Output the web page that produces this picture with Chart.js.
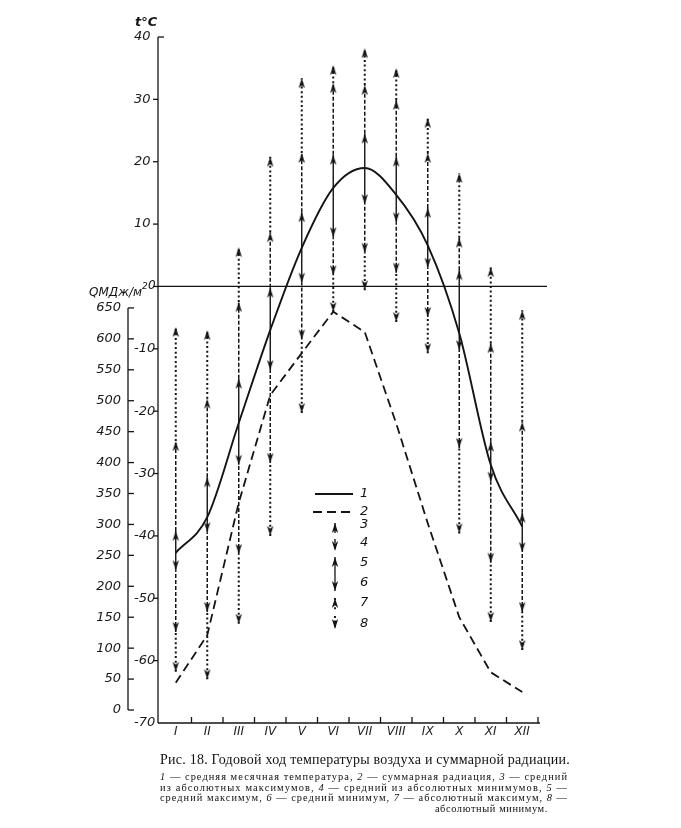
<!DOCTYPE html>
<html lang="ru">
<head>
<meta charset="utf-8">
<title>Годовой ход температуры воздуха и суммарной радиации</title>
<script src="https://cdn.jsdelivr.net/npm/chart.js@4.4.1/dist/chart.umd.min.js"></script>
<style>
    html, body { margin: 0; padding: 0; background: #ffffff; }
    #quadro { position: relative; width: 681px; height: 828px; overflow: hidden; background: #ffffff; }
    #grafico { position: absolute; left: 0; top: 0; }
    .texto { position: absolute; font-family: "Liberation Serif", "DejaVu Serif", serif; color: #111111; white-space: nowrap; }
    #titulo { left: 160px; top: 752px; font-size: 14px; line-height: 16px; }
    .nota { font-size: 10.4px; line-height: 10.5px; }
</style>
</head>
<body>
<div id="quadro">
    <canvas id="grafico" width="681" height="828"></canvas>
    <div id="titulo" class="texto ajuste" data-largura="410">Рис. 18. Годовой ход температуры воздуха и суммарной радиации.</div>
    <div class="texto nota ajuste" data-largura="408" style="left:160px; top:772px"><i>1</i> — средняя месячная температура, <i>2</i> — суммарная радиация, <i>3</i> — средний</div>
    <div class="texto nota ajuste" data-largura="408" style="left:160px; top:782.5px">из абсолютных максимумов, <i>4</i> — средний из абсолютных минимумов, <i>5</i> —</div>
    <div class="texto nota ajuste" data-largura="408" style="left:160px; top:793px">средний максимум, <i>6</i> — средний минимум, <i>7</i> — абсолютный максимум, <i>8</i> —</div>
    <div class="texto nota" style="right:133px; top:803.5px; letter-spacing:0.6px">абсолютный минимум.</div>
</div>

<script>
const meses = ['I', 'II', 'III', 'IV', 'V', 'VI', 'VII', 'VIII', 'IX', 'X', 'XI', 'XII'];

// 1 — средняя месячная температура, °C
const tempMedia = [-42.7, -37.0, -21.9, -7.0, 6.2, 15.8, 19.0, 14.7, 6.6, -7.5, -28.6, -38.5];
// 2 — суммарная радиация, МДж/м²
const radiacao = [44, 121, 335, 509, 577, 644, 611, 463, 302, 150, 61, 29];

// 3..8, °C
const mediaAbsMax = [-24.8, -18.0, -2.5, 8.7, 21.4, 32.6, 32.3, 29.9, 21.4, 7.8, -9.1, -21.7];
const mediaAbsMin = [-55.4, -52.2, -42.9, -28.3, -8.5, 1.8, 5.4, 2.2, -4.9, -25.9, -44.3, -52.2];
const mediaMax = [-39.2, -30.6, -14.8, -0.2, 11.9, 21.1, 24.5, 20.8, 12.6, 2.6, -24.9, -36.3];
const mediaMin = [-45.5, -39.4, -28.6, -13.4, 0.6, 7.9, 13.2, 10.3, 3.0, -10.2, -31.3, -42.6];
const absMax = [-6.5, -7.0, 6.3, 20.8, 33.4, 35.5, 38.2, 35.0, 27.0, 18.2, 3.1, -3.8];
const absMin = [-61.8, -63.0, -54.1, -40.0, -20.3, -4.1, -0.6, -5.7, -10.7, -39.6, -53.8, -58.3];

const ticksQ = [0, 50, 100, 150, 200, 250, 300, 350, 400, 450, 500, 550, 600, 650];

const PRETO = '#141414';
const TRACEJADO = [4, 2];
const PONTILHADO = [2, 2.6];

Chart.defaults.font.family = "'DejaVu Sans', sans-serif";
Chart.defaults.color = '#1a1a1a';

function criarSeta() {
    // ponta da seta no centro do canvas, para coincidir com o valor
    const c = document.createElement('canvas');
    c.width = 8;
    c.height = 24;
    const g = c.getContext('2d');
    g.fillStyle = PRETO;
    g.beginPath();
    g.moveTo(4, 12);
    g.lineTo(7.2, 22);
    g.lineTo(4, 19.2);
    g.lineTo(0.8, 22);
    g.closePath();
    g.fill();
    return c;
}
const seta = criarSeta();

function pontos(valores) {
    return valores.map((v, i) => ({ x: i + 1, y: v }));
}

function hastes(...pares) {
    const dados = [];
    pares.forEach(([baixo, cima]) => {
        baixo.forEach((v, i) => {
            dados.push({ x: i + 1, y: v }, { x: i + 1, y: cima[i] }, { x: i + 1, y: null });
        });
    });
    return dados;
}

function linha(ctx, x1, y1, x2, y2) {
    ctx.beginPath();
    ctx.moveTo(x1, y1);
    ctx.lineTo(x2, y2);
    ctx.stroke();
}

function desenharSeta(ctx, x, y, paraBaixo) {
    ctx.save();
    ctx.translate(x, y);
    if (paraBaixo) ctx.rotate(Math.PI);
    ctx.drawImage(seta, -seta.width / 2, -seta.height / 2);
    ctx.restore();
}

const moldura = {
    id: 'moldura',
    afterDraw(chart) {
        const { ctx, chartArea: area } = chart;
        const { x, t, q } = chart.scales;
        ctx.save();
        ctx.strokeStyle = PRETO;
        ctx.fillStyle = PRETO;
        ctx.lineWidth = 1.3;
        ctx.setLineDash([]);

        // ось температуры
        const xt = area.left - 2;
        const yTopo = t.getPixelForValue(40);
        linha(ctx, xt, yTopo, xt, area.bottom);
        linha(ctx, xt, yTopo, xt + 6, yTopo);
        t.ticks.forEach(tk => {
            if (tk.value < 40 && tk.value > -70) {
                const y = t.getPixelForValue(tk.value);
                linha(ctx, xt - 5, y, xt, y);
            }
        });

        // ось Q
        const xq = q.right - 6;
        linha(ctx, xq, q.getPixelForValue(650), xq, q.getPixelForValue(0));
        q.ticks.forEach(tk => {
            const y = q.getPixelForValue(tk.value);
            linha(ctx, xq, y, xq + 6, y);
        });

        // ось месяцев
        linha(ctx, xt, area.bottom, area.right + 2, area.bottom);
        for (let k = 1; k <= 12; k++) {
            const px = x.getPixelForValue(k + 0.5);
            linha(ctx, px, area.bottom, px, area.bottom - 6);
        }

        // нулевая линия
        const y0 = t.getPixelForValue(0);
        linha(ctx, xt, y0, area.right + 9, y0);

        // подписи осей
        ctx.textBaseline = 'alphabetic';
        ctx.font = "italic bold 13px 'DejaVu Sans'";
        ctx.fillText('t°C', 135, 26);
        ctx.font = "italic 12.5px 'DejaVu Sans'";
        ctx.fillText('QМДж/м', 89, 296, 53);
        ctx.font = "italic 9px 'DejaVu Sans'";
        ctx.fillText('2', 142, 289);
        ctx.font = "italic 12px 'DejaVu Sans'";
        ctx.fillText('0', 148, 289);

        // легенда
        const xl = 335;
        ctx.lineWidth = 1.9;
        linha(ctx, 315, 494, 353, 494);
        ctx.setLineDash([9, 5]);
        linha(ctx, 313, 512, 353, 512);

        ctx.lineWidth = 1.4;
        ctx.setLineDash(TRACEJADO);
        linha(ctx, xl, 523, xl, 534);
        desenharSeta(ctx, xl, 523, false);
        linha(ctx, xl, 539, xl, 551);
        desenharSeta(ctx, xl, 551, true);

        ctx.lineWidth = 1.3;
        ctx.setLineDash([]);
        linha(ctx, xl, 557, xl, 591);
        desenharSeta(ctx, xl, 557, false);
        desenharSeta(ctx, xl, 591, true);

        ctx.lineWidth = 1.9;
        ctx.setLineDash(PONTILHADO);
        linha(ctx, xl, 598, xl, 611);
        desenharSeta(ctx, xl, 598, false);
        linha(ctx, xl, 616, xl, 629);
        desenharSeta(ctx, xl, 629, true);

        ctx.setLineDash([]);
        ctx.font = "italic 13px 'DejaVu Sans'";
        ctx.textBaseline = 'middle';
        [['1', 494], ['2', 512], ['3', 525], ['4', 543], ['5', 563], ['6', 583], ['7', 603], ['8', 624]]
            .forEach(([s, y]) => ctx.fillText(s, 360, y));

        ctx.restore();
    }
};

new Chart(document.getElementById('grafico'), {
    type: 'line',
    data: {
        datasets: [
            {
                label: 'вверх',
                data: [...pontos(mediaMax), ...pontos(mediaAbsMax), ...pontos(absMax)],
                yAxisID: 't',
                showLine: false,
                pointStyle: seta,
                pointRadius: 4,
                pointRotation: 0
            },
            {
                label: 'вниз',
                data: [...pontos(mediaMin), ...pontos(mediaAbsMin), ...pontos(absMin)],
                yAxisID: 't',
                showLine: false,
                pointStyle: seta,
                pointRadius: 4,
                pointRotation: 180
            },
            {
                label: '5-6',
                data: hastes([mediaMin, mediaMax]),
                yAxisID: 't',
                borderColor: PRETO,
                borderWidth: 1.4,
                pointRadius: 0,
                spanGaps: false
            },
            {
                label: '3-4',
                data: hastes([mediaAbsMin, mediaMin], [mediaMax, mediaAbsMax]),
                yAxisID: 't',
                borderColor: PRETO,
                borderWidth: 1.5,
                borderDash: TRACEJADO,
                pointRadius: 0,
                spanGaps: false
            },
            {
                label: '7-8',
                data: hastes([absMin, mediaAbsMin], [mediaAbsMax, absMax]),
                yAxisID: 't',
                borderColor: PRETO,
                borderWidth: 2,
                borderDash: PONTILHADO,
                pointRadius: 0,
                spanGaps: false
            },
            {
                label: '1',
                data: pontos(tempMedia),
                yAxisID: 't',
                borderColor: PRETO,
                borderWidth: 1.9,
                pointRadius: 0,
                cubicInterpolationMode: 'monotone'
            },
            {
                label: '2',
                data: pontos(radiacao),
                yAxisID: 'q',
                borderColor: PRETO,
                borderWidth: 1.8,
                borderDash: [9, 5],
                pointRadius: 0,
                tension: 0
            }
        ]
    },
    options: {
        responsive: false,
        animation: false,
        events: [],
        layout: { padding: { left: 80, right: 143, top: 37, bottom: 75 } },
        plugins: {
            legend: { display: false },
            tooltip: { enabled: false }
        },
        scales: {
            x: {
                type: 'linear',
                min: 0.5,
                max: 12.5,
                grid: { display: false, drawTicks: false },
                border: { display: false },
                afterBuildTicks: s => { s.ticks = meses.map((m, i) => ({ value: i + 1 })); },
                afterFit: s => { s.height = 30; },
                ticks: {
                    autoSkip: false,
                    maxRotation: 0,
                    padding: 2,
                    color: '#222',
                    font: { style: 'italic', size: 12 },
                    callback: v => meses[v - 1]
                }
            },
            t: {
                type: 'linear',
                position: 'left',
                min: -70,
                max: 40,
                weight: 0,
                grid: { display: false, drawTicks: false },
                border: { display: false },
                afterFit: s => { s.width = 26; },
                ticks: {
                    stepSize: 10,
                    autoSkip: false,
                    crossAlign: 'far',
                    font: { style: 'italic', size: 13 },
                    callback: v => (v === 0 ? '' : v)
                }
            },
            q: {
                type: 'linear',
                position: 'left',
                min: -21,
                max: 1088,
                weight: 1,
                grid: { display: false, drawTicks: false },
                border: { display: false },
                afterBuildTicks: s => { s.ticks = ticksQ.map(v => ({ value: v })); },
                afterFit: s => { s.width = 54; },
                ticks: {
                    autoSkip: false,
                    padding: 13,
                    font: { style: 'italic', size: 13 }
                }
            }
        }
    },
    plugins: [moldura]
});

function ajustarTextos() {
    document.querySelectorAll('.ajuste').forEach(el => {
        el.style.letterSpacing = '0px';
        const natural = el.getBoundingClientRect().width;
        const alvo = parseFloat(el.dataset.largura);
        const n = el.textContent.length;
        el.style.letterSpacing = ((alvo - natural) / n) + 'px';
    });
}
ajustarTextos();
</script>
</body>
</html>
